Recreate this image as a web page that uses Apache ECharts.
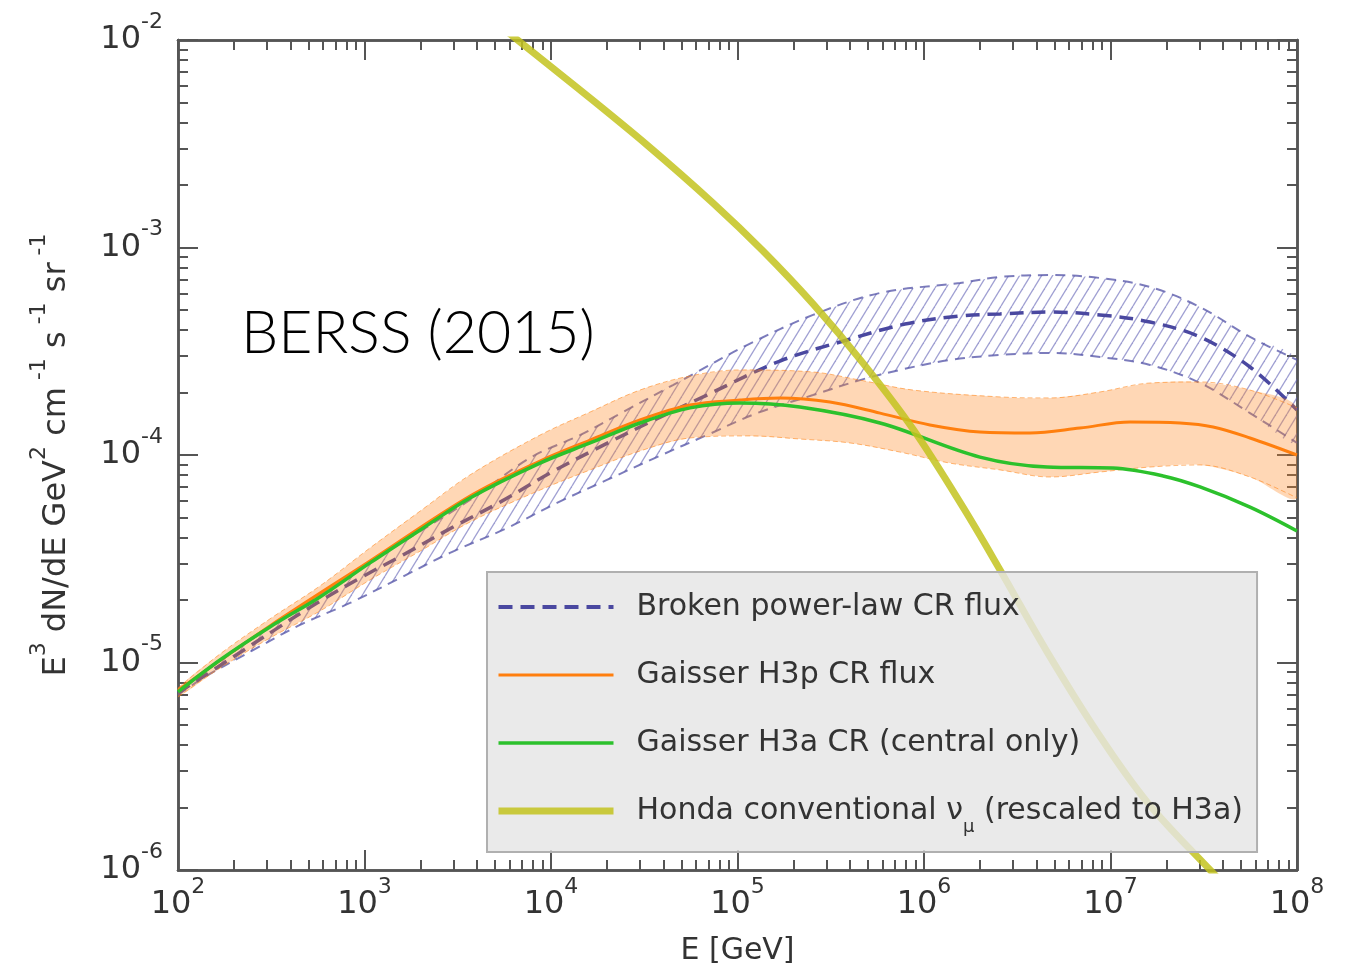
<!DOCTYPE html>
<html><head><meta charset="utf-8">
<script src="https://cdn.jsdelivr.net/npm/echarts@6/dist/echarts.min.js"></script>
<style>html,body{margin:0;padding:0;background:#fff}#chart{width:1350px;height:972px}</style>
</head><body><div id="chart"></div>
<script>
// ---- tick values ----
const xMajorTicks = [1e2, 1e3, 1e4, 1e5, 1e6, 1e7, 1e8];
const yMajorTicks = [1e-6, 1e-5, 1e-4, 1e-3, 1e-2];
const minorMultipliers = [2, 3, 4, 5, 6, 7, 8, 9];

// ---- series names ----
const seriesNames = ['Broken power-law CR flux', 'Gaisser H3p CR flux', 'Gaisser H3a CR (central only)', 'Honda conventional νμ (rescaled to H3a)'];

// ---- Broken power-law (blue) ----
const bplE = [100, 311, 556, 946, 1607, 2985, 5333, 9886, 18320, 33960, 68550, 169000, 386000, 790700, 1.56e6, 2.559e6, 4.742e6, 8.79e6, 1.629e7, 3.02e7, 5.598e7, 1e8];
const bplF = [7.129e-6, 1.387e-5, 1.936e-5, 2.553e-5, 3.296e-5, 4.498e-5, 5.929e-5, 8.185e-5, 1.094e-4, 1.442e-4, 1.945e-4, 2.838e-4, 3.581e-4, 4.276e-4, 4.677e-4, 4.786e-4, 4.887e-4, 4.732e-4, 4.375e-4, 3.707e-4, 2.655e-4, 1.648e-4];
const bplUpE = [100, 311, 1070, 3680, 7709, 14290, 24320, 45080, 60670, 112500, 254000, 581000, 1.56e6, 2.559e6, 4.742e6, 8.79e6, 1.629e7, 3.02e7, 5.598e7, 1e8];
const bplUpF = [7.362e-6, 1.483e-5, 3.048e-5, 6.067e-5, 9.683e-5, 1.247e-4, 1.611e-4, 2.173e-4, 2.512e-4, 3.388e-4, 4.732e-4, 6.039e-4, 6.745e-4, 7.211e-4, 7.362e-4, 7.129e-4, 6.457e-4, 5.164e-4, 3.707e-4, 2.871e-4];
const bplLoE = [100, 136, 243, 451, 836, 1549, 2871, 5808, 10770, 19950, 36980, 68550, 127400, 254100, 453900, 743000, 1.377e6, 2.559e6, 4.742e6, 8.79e6, 1.629e7, 3.02e7, 5.598e7, 1e8];
const bplLoF = [6.966e-6, 8.414e-6, 1.125e-5, 1.517e-5, 1.936e-5, 2.553e-5, 3.373e-5, 4.446e-5, 5.875e-5, 7.586e-5, 9.772e-5, 1.247e-4, 1.592e-4, 1.945e-4, 2.296e-4, 2.570e-4, 2.871e-4, 3.034e-4, 3.105e-4, 2.965e-4, 2.716e-4, 2.223e-4, 1.592e-4, 1.143e-4];

// ---- Gaisser H3p (orange) ----
const h3pE = [100, 311, 1070, 3680, 8730, 16200, 30000, 55600, 103000, 169000, 313000, 581000, 1.076e6, 1.995e6, 3.698e6, 6.855e6, 1.274e7, 2.36e7, 3.548e7, 5.598e7, 1e8];
const h3pF = [7.362e-6, 1.5e-5, 3.083e-5, 6.339e-5, 9.354e-5, 1.18e-4, 1.476e-4, 1.742e-4, 1.841e-4, 1.884e-4, 1.799e-4, 1.592e-4, 1.396e-4, 1.291e-4, 1.276e-4, 1.349e-4, 1.442e-4, 1.426e-4, 1.365e-4, 1.208e-4, 1.0e-4];
const h3pUpE = [100, 168, 311, 577, 1070, 1990, 3680, 8730, 16200, 30000, 55600, 103000, 254100, 453900, 873000, 2.559e6, 4.742e6, 8.79e6, 1.629e7, 3.02e7, 5.598e7, 1e8];
const h3pUpF = [7.534e-6, 1.099e-5, 1.622e-5, 2.339e-5, 3.565e-5, 5.37e-5, 8.017e-5, 1.247e-4, 1.611e-4, 2.056e-4, 2.404e-4, 2.57e-4, 2.512e-4, 2.296e-4, 2.056e-4, 1.905e-4, 1.884e-4, 2.014e-4, 2.223e-4, 2.249e-4, 2.056e-4, 1.687e-4];
const h3pLoE = [100, 168, 311, 577, 1070, 1990, 3680, 8730, 16200, 30000, 55600, 116800, 216000, 401000, 743000, 1.377e6, 2.559e6, 4.742e6, 8.79e6, 1.629e7, 3.02e7, 5.598e7, 1e8];
const h3pLoF = [6.823e-6, 9.397e-6, 1.312e-5, 1.77e-5, 2.5e-5, 3.443e-5, 4.753e-5, 6.776e-5, 8.472e-5, 1.045e-4, 1.208e-4, 1.236e-4, 1.194e-4, 1.143e-4, 1.033e-4, 9.141e-5, 8.472e-5, 7.834e-5, 8.279e-5, 8.75e-5, 8.954e-5, 7.834e-5, 6.209e-5];

// ---- Gaisser H3a (green) ----
const h3aE = [100, 168, 311, 577, 1070, 1990, 3680, 8730, 16200, 30000, 55600, 103000, 216000, 581000, 1.995e6, 4.571e6, 1.03e7, 1.914e7, 3.02e7, 5.598e7, 1e8];
const h3aF = [7.211e-6, 1.028e-5, 1.483e-5, 2.07e-5, 3.02e-5, 4.355e-5, 6.209e-5, 9.141e-5, 1.143e-4, 1.426e-4, 1.687e-4, 1.782e-4, 1.702e-4, 1.426e-4, 9.772e-5, 8.75e-5, 8.65e-5, 7.925e-5, 7.015e-5, 5.61e-5, 4.305e-5];

// ---- Honda conventional numu (yellow) ----
const hondaE = [4710, 6412, 14320, 32730, 73960, 137100, 254100, 471000, 873000, 1.618e6, 2.559e6, 4.571e6, 8.472e6, 1.57e7, 3.42e7, 4.943e7];
const hondaF = [1.276e-2, 1.023e-2, 5.741e-3, 3.119e-3, 1.637e-3, 9.616e-4, 5.346e-4, 2.773e-4, 1.334e-4, 5.61e-5, 2.793e-5, 1.125e-5, 4.624e-6, 2.128e-6, 1.0e-6, 7.161e-7];

// ---- build helpers ----
const pairs = (xs, ys) => xs.map((x, i) => [x, ys[i]]);
const minorOf = (majors) => {
  const out = [];
  for (let i = 0; i < majors.length - 1; i++) minorMultipliers.forEach(m => out.push(m * majors[i]));
  return out;
};
const xMinorTicks = minorOf(xMajorTicks);
const yMinorTicks = minorOf(yMajorTicks);

const FONT = 'DejaVu Sans';
const AX = '#555';
const supRich = {
  b: { fontSize: 32, fontFamily: FONT, color: '#333' },
  s: { fontSize: 22, fontFamily: FONT, color: '#333', padding: [0, 0, 36, 0] }
};
const sciLabel = v => '{b|10}{s|' + Math.round(Math.log10(v)) + '}';

function hatchPattern() {
  const c = document.createElement('canvas');
  c.width = 11; c.height = 18;
  const g = c.getContext('2d');
  g.strokeStyle = 'rgba(95,95,180,0.6)';
  g.lineWidth = 1.3;
  [-11, 0, 11].forEach(dx => { g.beginPath(); g.moveTo(dx, 18); g.lineTo(dx + 11, 0); g.stroke(); });
  return c;
}

function band(name, upE, upF, loE, loF, fill, z) {
  return {
    type: 'custom', name: name, z: z, silent: true, clip: true,
    xAxisIndex: 0, yAxisIndex: 0,
    data: [[upE[0], upF[0]]],
    encode: { x: 0, y: 1 },
    renderItem: function (params, api) {
      const pts = [];
      for (let i = 0; i < upE.length; i++) pts.push(api.coord([upE[i], upF[i]]));
      for (let i = loE.length - 1; i >= 0; i--) pts.push(api.coord([loE[i], loF[i]]));
      return { type: 'polygon', shape: { points: pts, smooth: 0.3 }, style: { fill: fill, stroke: null } };
    }
  };
}

function line(name, xs, ys, color, width, type, z) {
  return {
    type: 'line', name: name, z: z, data: pairs(xs, ys),
    xAxisIndex: 0, yAxisIndex: 0,
    showSymbol: false, symbol: 'none', smooth: 0.35, clip: true, silent: true,
    lineStyle: { color: color, width: width, type: type },
    itemStyle: { color: color }
  };
}

function xAxisDef(pos, ticks, len, labels) {
  return {
    type: 'log', logBase: 10, min: 1e2, max: 1e8, position: pos, gridIndex: 0,
    axisLine: { show: true, onZero: false, lineStyle: { color: AX, width: 2.5 } },
    axisTick: { show: true, inside: true, length: len, customValues: ticks, lineStyle: { color: AX, width: 2 } },
    axisLabel: labels ? { show: true, customValues: ticks, formatter: sciLabel, rich: supRich, margin: 6 } : { show: false },
    splitLine: { show: false }, minorTick: { show: false }, minorSplitLine: { show: false },
    name: labels ? 'E [GeV]' : '', nameLocation: 'middle', nameGap: 66,
    nameTextStyle: { fontSize: 30, fontFamily: FONT, color: '#333' }
  };
}
function yAxisDef(pos, ticks, len, labels) {
  return {
    type: 'log', logBase: 10, min: 1e-6, max: 1e-2, position: pos, gridIndex: 0,
    axisLine: { show: true, onZero: false, lineStyle: { color: AX, width: 2.5 } },
    axisTick: { show: true, inside: true, length: len, customValues: ticks, lineStyle: { color: AX, width: 2 } },
    axisLabel: labels ? { show: true, customValues: ticks, formatter: sciLabel, rich: supRich, margin: 15 } : { show: false },
    splitLine: { show: false }, minorTick: { show: false }, minorSplitLine: { show: false },
    name: labels ? '{b|E}{s|3}{b| dN/dE GeV}{s|2}{b| cm}{s| -1}{b| s}{s| -1}{b| sr}{s| -1}' : '',
    nameLocation: 'middle', nameRotate: 90, nameGap: 92,
    nameTextStyle: { rich: {
      b: { fontSize: 32, fontFamily: FONT, color: '#333' },
      s: { fontSize: 22, fontFamily: FONT, color: '#333', padding: [0, 0, 36, 0] }
    } }
  };
}

const legendWidths = [4, 3, 3.5, 7];
const chart = echarts.init(document.getElementById('chart'), null, { renderer: 'canvas' });
chart.setOption({
  animation: false,
  backgroundColor: '#fff',
  grid: { left: 178, top: 40, right: 53, bottom: 102, containLabel: false },
  title: {
    text: 'BERSS (2015)', left: 241, top: 304, padding: 0,
    textStyle: { fontSize: 59, fontWeight: 300, fontFamily: 'Lato', color: '#000' }
  },
  xAxis: [
    xAxisDef('bottom', xMajorTicks, 20, true),
    xAxisDef('top', xMajorTicks, 20, false),
    xAxisDef('bottom', xMinorTicks, 10, false),
    xAxisDef('top', xMinorTicks, 10, false)
  ],
  yAxis: [
    yAxisDef('left', yMajorTicks, 20, true),
    yAxisDef('right', yMajorTicks, 20, false),
    yAxisDef('left', yMinorTicks, 10, false),
    yAxisDef('right', yMinorTicks, 10, false)
  ],
  legend: {
    z: 20,
    data: seriesNames.map((n, i) => ({ name: n, lineStyle: { width: legendWidths[i] } })),
    orient: 'vertical', left: 487, top: 572,
    selectedMode: false,
    backgroundColor: 'rgba(229,229,229,0.82)', borderColor: '#b0b0b0', borderWidth: 2, borderRadius: 0,
    padding: [17, 14, 16, 8], itemGap: 32, itemWidth: 115, itemHeight: 14,
    itemStyle: { color: 'rgba(0,0,0,0)', borderWidth: 0, opacity: 0 },
    formatter: n => n.indexOf('Honda') === 0 ? 'Honda conventional ν{sub|μ} (rescaled to H3a)' : n,
    textStyle: {
      fontSize: 30, fontFamily: FONT, color: '#333', lineHeight: 36, padding: [0, 0, 0, 18],
      rich: { sub: { fontSize: 18, fontFamily: FONT, color: '#333', padding: [32, 0, 0, 0] } }
    }
  },
  series: [
    band('bplBand', bplUpE, bplUpF, bplLoE, bplLoF, { image: hatchPattern(), repeat: 'repeat' }, 2),
    line('bplUp', bplUpE, bplUpF, 'rgba(80,80,165,0.75)', 2, [10, 7], 3),
    line('bplLo', bplLoE, bplLoF, 'rgba(80,80,165,0.75)', 2, [10, 7], 3),
    line(seriesNames[0], bplE, bplF, '#4a48a0', 3.5, [14, 8], 3),
    band('h3pBand', h3pUpE, h3pUpF, h3pLoE, h3pLoF, 'rgba(255,135,30,0.33)', 4),
    line('h3pUp', h3pUpE, h3pUpF, 'rgba(255,127,14,0.55)', 1, [5, 3], 5),
    line('h3pLo', h3pLoE, h3pLoF, 'rgba(255,127,14,0.55)', 1, [5, 3], 5),
    line(seriesNames[1], h3pE, h3pF, '#ff7f0e', 3, 'solid', 6),
    line(seriesNames[2], h3aE, h3aF, '#2cc12c', 3.5, 'solid', 7),
    line(seriesNames[3], hondaE, hondaF, 'rgba(195,195,30,0.85)', 7, 'solid', 8)
  ]
});
</script>
</body></html>
